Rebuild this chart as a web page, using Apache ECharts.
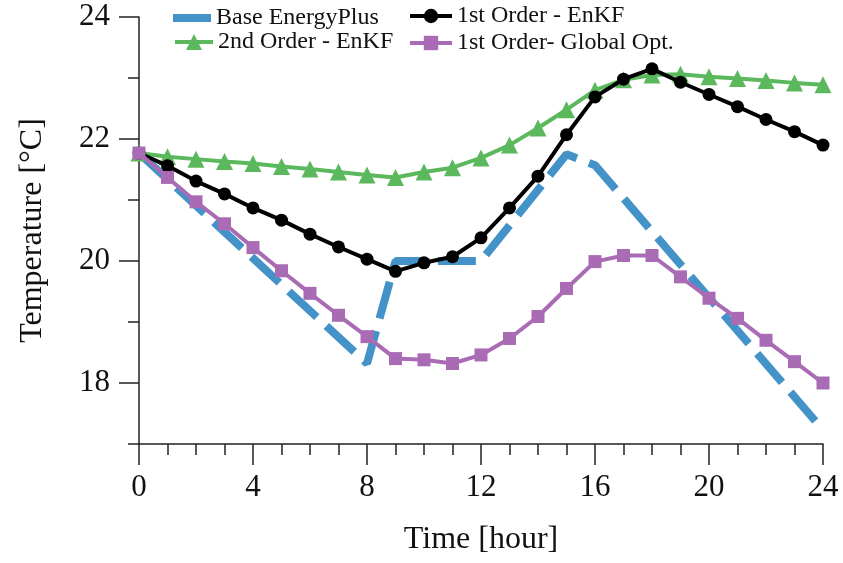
<!DOCTYPE html>
<html>
<head>
<meta charset="utf-8">
<script src="https://cdn.jsdelivr.net/npm/echarts@6/dist/echarts.min.js"></script>
<style>html,body{margin:0;padding:0;background:#fff;}#c{width:843px;height:563px;}</style>
</head>
<body>
<div id="c"></div>
<script>
var hours = [0,1,2,3,4,5,6,7,8,9,10,11,12,13,14,15,16,17,18,19,20,21,22,23,24];
var baseHours = [0,8,9,12,15,16,24];
var baseTemp = [21.77,18.32,20.0,20.0,21.75,21.57,17.23];
var enkf1 = [21.77,21.56,21.31,21.10,20.87,20.67,20.44,20.23,20.03,19.83,19.97,20.07,20.38,20.87,21.39,22.07,22.69,22.98,23.15,22.93,22.73,22.53,22.32,22.12,21.90];
var enkf2 = [21.77,21.71,21.67,21.63,21.60,21.55,21.51,21.46,21.41,21.37,21.46,21.53,21.69,21.90,22.18,22.48,22.80,22.97,23.05,23.06,23.02,22.99,22.96,22.92,22.89];
var globalOpt = [21.77,21.37,20.97,20.61,20.22,19.84,19.47,19.11,18.76,18.40,18.38,18.32,18.46,18.73,19.09,19.55,19.99,20.09,20.09,19.74,19.39,19.06,18.70,18.35,18.00];
var names = ['Base EnergyPlus','1st Order - EnKF','2nd Order - EnKF','1st Order- Global Opt.'];

function pairs(xs, ys){ return xs.map(function(x,i){ return [x, ys[i]]; }); }

var FONT = 'Liberation Serif';
var AX = '#222';
var legendText = {fontFamily: FONT, fontSize: 24, color: '#111'};
var legLine = {width: 4};

var chart = echarts.init(document.getElementById('c'), null, {renderer: 'canvas'});
chart.setOption({
  animation: false,
  backgroundColor: '#fff',
  grid: [
    {left: 139, right: 20, top: 17, bottom: 119},
    {left: 139, right: 20, top: 17, bottom: 180}
  ],
  legend: [
    {data: [names[0]], left: 173, top: 6, padding: 0, icon: 'rect', itemWidth: 38, itemHeight: 8, textStyle: legendText, selectedMode: false},
    {data: [names[1]], left: 408, top: 4, padding: 0, itemWidth: 42, itemHeight: 18, lineStyle: legLine, textStyle: legendText, selectedMode: false},
    {data: [names[2]], left: 173, top: 30, padding: 0, itemWidth: 38, itemHeight: 20, lineStyle: legLine, textStyle: legendText, selectedMode: false},
    {data: [names[3]], left: 408, top: 31, padding: 0, itemWidth: 42, itemHeight: 18, lineStyle: legLine, textStyle: legendText, selectedMode: false}
  ],
  xAxis: [
    {type: 'value', gridIndex: 0, min: 0, max: 24, interval: 4,
     name: 'Time [hour]', nameLocation: 'middle', nameGap: 80,
     nameTextStyle: {fontFamily: FONT, fontSize: 32, color: '#111'},
     axisLine: {lineStyle: {color: AX, width: 1.5}},
     axisTick: {length: 21, lineStyle: {color: AX, width: 1.5}},
     minorTick: {show: true, splitNumber: 4, length: 11, lineStyle: {color: AX, width: 1.5}},
     axisLabel: {margin: 28, fontFamily: FONT, fontSize: 31, color: '#111'},
     splitLine: {show: false}, minorSplitLine: {show: false}},
    {type: 'value', gridIndex: 1, min: 0, max: 24, show: false}
  ],
  yAxis: [
    {type: 'value', gridIndex: 0, min: 17, max: 24, interval: 1,
     name: 'Temperature [°C]', nameLocation: 'middle', nameGap: 90,
     nameTextStyle: {fontFamily: FONT, fontSize: 32, color: '#111'},
     axisLine: {show: true, lineStyle: {color: AX, width: 1.5}},
     axisTick: {show: true, length: 11, lineStyle: {color: AX, width: 1.5}},
     axisLabel: {show: false},
     splitLine: {show: false}},
    {type: 'value', gridIndex: 1, min: 18, max: 24, interval: 2,
     axisLine: {show: false},
     axisTick: {show: true, length: 20, lineStyle: {color: AX, width: 1.5}},
     axisLabel: {margin: 29, fontFamily: FONT, fontSize: 31, color: '#111'},
     splitLine: {show: false}}
  ],
  series: [
    {name: names[0], type: 'line', data: pairs(baseHours, baseTemp), showSymbol: false, symbol: 'none',
     color: '#4393c8', lineStyle: {width: 8, type: [38, 13], color: '#4393c8'}, z: 1},
    {name: names[2], type: 'line', data: pairs(hours, enkf2), symbol: 'triangle', symbolSize: 17,
     color: '#5cb85c', itemStyle: {color: '#5cb85c'}, lineStyle: {width: 4, color: '#5cb85c'}, z: 2},
    {name: names[1], type: 'line', data: pairs(hours, enkf1), symbol: 'circle', symbolSize: 13,
     color: '#000', itemStyle: {color: '#000'}, lineStyle: {width: 4, color: '#000'}, z: 3},
    {name: names[3], type: 'line', data: pairs(hours, globalOpt), symbol: 'rect', symbolSize: 13,
     color: '#aa6bb5', itemStyle: {color: '#aa6bb5'}, lineStyle: {width: 4, color: '#aa6bb5'}, z: 4}
  ]
});
</script>
</body>
</html>
